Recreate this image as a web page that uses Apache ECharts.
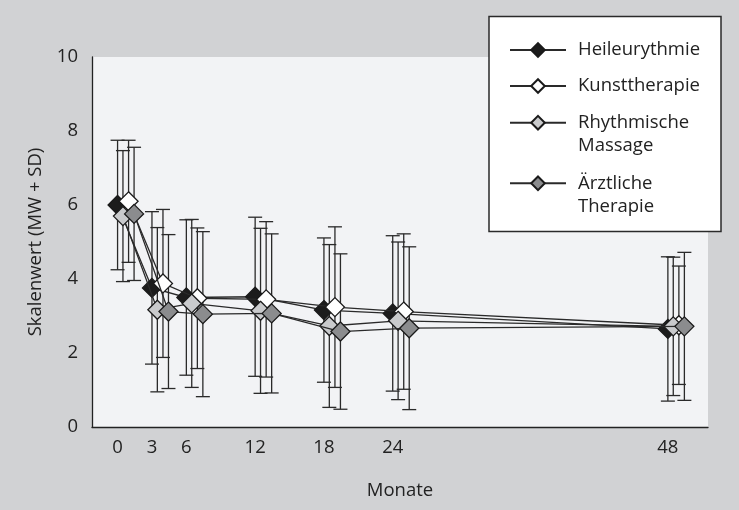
<!DOCTYPE html>
<html><head><meta charset="utf-8">
<script src="https://cdn.jsdelivr.net/npm/echarts@6/dist/echarts.min.js"></script>
<style>html,body{margin:0;padding:0;background:#d1d2d4}#c{width:739px;height:510px}</style>
</head><body><div id="c"></div>
<script>
// ---- data ----
const months = [0, 3, 6, 12, 18, 24, 48];
const xTickLabels = [0, 3, 6, 12, 18, 24, 48];
const yTicks = [0, 2, 4, 6, 8, 10];
const seriesNames = ['Heileurythmie', 'Kunsttherapie', 'Rhythmische Massage', 'Ärztliche Therapie'];

const heilMean = [6.0, 3.76, 3.5, 3.52, 3.16, 3.07, 2.65];
const heilSD   = [1.75, 2.06, 2.1, 2.15, 1.95, 2.1, 1.95];
const kunstMean = [6.1, 3.88, 3.48, 3.45, 3.24, 3.12, 2.75];
const kunstSD   = [1.65, 2.0, 1.9, 2.1, 2.17, 2.1, 1.6];
const rhythMean = [5.7, 3.17, 3.34, 3.14, 2.73, 2.87, 2.72];
const rhythSD   = [1.77, 2.22, 2.27, 2.23, 2.2, 2.13, 1.87];
const arztMean = [5.76, 3.12, 3.05, 3.07, 2.58, 2.67, 2.72];
const arztSD   = [1.8, 2.08, 2.23, 2.15, 2.1, 2.2, 2.0];

// ---- styling ----
const FONT = 'Open Sans';
const FS = 18.5;
const INK = '#222';
const means = [heilMean, kunstMean, rhythMean, arztMean];
const sds = [heilSD, kunstSD, rhythSD, arztSD];
const fills = ['#1c1c1c', '#ffffff', '#c9cacc', '#8b8c8e'];
const dodge = [0, 0.96, 0.47, 1.44]; // horizontal dodge (months) so groups don't overlap

const series = [];
seriesNames.forEach((name, k) => {
  series.push({
    type: 'custom',
    name: name + '_err',
    z: 1,
    silent: true,
    encode: { x: 0, y: 1 },
    data: months.map((m, i) => [m + dodge[k], means[k][i], sds[k][i]]),
    renderItem: (params, api) => {
      const x = api.value(0), mu = api.value(1), s = api.value(2);
      const top = api.coord([x, mu + s]);
      const bot = api.coord([x, Math.max(mu - s, 0.45)]);
      const hw = 7;
      const st = { stroke: '#2a2a2a', lineWidth: 1.3 };
      return { type: 'group', children: [
        { type: 'line', shape: { x1: top[0], y1: top[1], x2: bot[0], y2: bot[1] }, style: st },
        { type: 'line', shape: { x1: top[0] - hw, y1: top[1], x2: top[0] + hw, y2: top[1] }, style: st },
        { type: 'line', shape: { x1: bot[0] - hw, y1: bot[1], x2: bot[0] + hw, y2: bot[1] }, style: st }
      ]};
    }
  });
});
seriesNames.forEach((name, k) => {
  series.push({
    type: 'line',
    name: name,
    z: 3 + k,
    data: months.map((m, i) => [m + dodge[k], means[k][i]]),
    symbol: 'diamond',
    symbolSize: 19,
    showSymbol: true,
    lineStyle: { color: '#2a2a2a', width: 1.3 },
    itemStyle: { color: fills[k], borderColor: '#1a1a1a', borderWidth: 1.3 },
    emphasis: { disabled: true }
  });
});

const legendTops = [38.5, 74.5, 88.2, 148.8];
const legends = seriesNames.map((name, k) => ({
  data: [name],
  left: 509, top: legendTops[k], orient: 'vertical', padding: 0,
  itemWidth: 56, itemHeight: 17, selectedMode: false, z: 20,
  // two-word names wrap; a blank first line keeps the marker level with the first text line
  formatter: n => n.indexOf(' ') > 0 ? ' \n' + n.replace(' ', '\n') : n,
  textStyle: { fontFamily: FONT, fontSize: FS, color: INK, lineHeight: 23, padding: [0, 0, 0, 7] }
}));

const chart = echarts.init(document.getElementById('c'));
chart.setOption({
  animation: false,
  backgroundColor: '#d1d2d4',
  grid: { left: 92, top: 57, right: 31, bottom: 83, show: true, backgroundColor: '#f2f3f5', borderWidth: 0 },
  xAxis: {
    type: 'value', min: -2.23, max: 51.5,
    name: 'Monate', nameLocation: 'middle', nameGap: 54,
    nameTextStyle: { fontFamily: FONT, fontSize: FS, color: INK },
    axisLine: { show: true, onZero: false, lineStyle: { color: INK, width: 1.3 } },
    axisTick: { show: false },
    splitLine: { show: false },
    axisLabel: { customValues: xTickLabels, fontFamily: FONT, fontSize: FS, color: INK, margin: 11 }
  },
  yAxis: {
    type: 'value', min: yTicks[0], max: yTicks[yTicks.length - 1], interval: 2,
    name: 'Skalenwert (MW + SD)', nameLocation: 'middle', nameGap: 47,
    nameTextStyle: { fontFamily: FONT, fontSize: FS, color: INK },
    axisLine: { show: true, onZero: false, lineStyle: { color: INK, width: 1.3 } },
    axisTick: { show: false },
    splitLine: { show: false },
    axisLabel: { fontFamily: FONT, fontSize: FS, color: INK, margin: 14 }
  },
  legend: legends,
  graphic: [{
    type: 'rect', z: 10,
    shape: { x: 489, y: 16.5, width: 232, height: 215 },
    style: { fill: '#ffffff', stroke: '#2a2a2a', lineWidth: 1.5 }
  }],
  series: series
});
</script></body></html>
